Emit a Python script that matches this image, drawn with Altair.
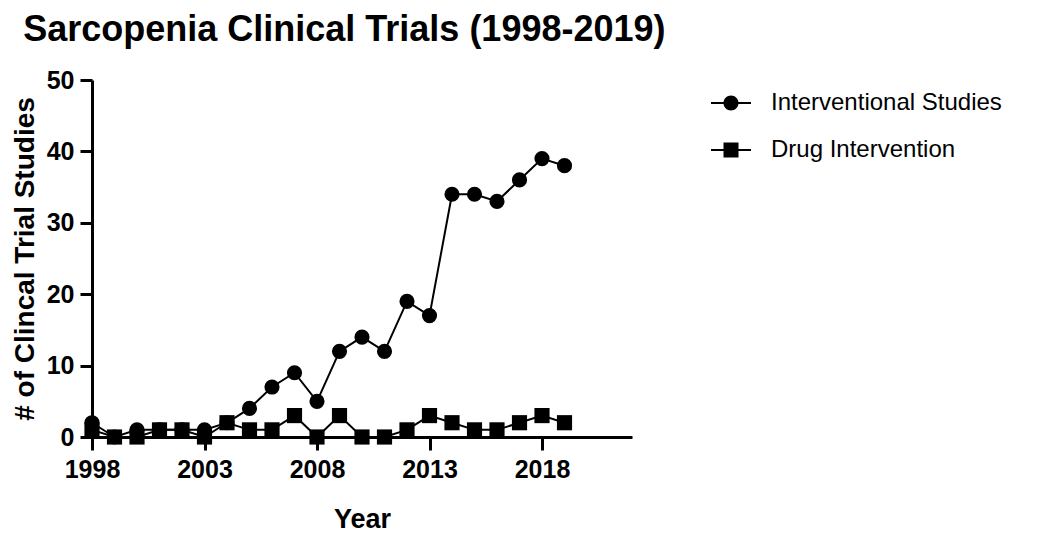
import altair as alt
import pandas as pd

series = ["Interventional Studies", "Drug Intervention"]
years = list(range(1998, 2020))
interventional = [2, 0, 1, 1, 1, 1, 2, 4, 7, 9, 5, 12, 14, 12, 19, 17, 34, 34, 33, 36, 39, 38]
drug = [1, 0, 0, 1, 1, 0, 2, 1, 1, 3, 0, 3, 0, 0, 1, 3, 2, 1, 1, 2, 3, 2]
x_ticks = [1998, 2003, 2008, 2013, 2018]
y_ticks = [0, 10, 20, 30, 40, 50]

df = pd.DataFrame({
    "Year": years * 2,
    "Count": interventional + drug,
    "Series": [series[0]] * len(years) + [series[1]] * len(years),
})

FONT = "Liberation Sans"

x_enc = alt.X(
    "Year:Q",
    scale=alt.Scale(domain=[1998, 2022], nice=False, zero=False),
    axis=alt.Axis(
        values=x_ticks, format="d", title="Year", grid=False,
        labelFont=FONT, labelFontSize=25, labelFontWeight="bold", labelColor="black",
        labelPadding=7, labelFlush=False,
        tickSize=13, tickWidth=3, tickColor="black",
        domainWidth=3, domainColor="black",
        titleFont=FONT, titleFontSize=27, titleFontWeight="bold", titleColor="black",
        titlePadding=24,
    ),
)
y_enc = alt.Y(
    "Count:Q",
    scale=alt.Scale(domain=[0, 50], nice=False),
    axis=alt.Axis(
        values=y_ticks, title="# of Clincal Trial Studies", grid=False,
        labelFont=FONT, labelFontSize=25, labelFontWeight="bold", labelColor="black",
        labelPadding=6, labelFlush=False,
        tickSize=12, tickWidth=3, tickColor="black",
        domainWidth=3, domainColor="black",
        titleFont=FONT, titleFontSize=28, titleFontWeight="bold", titleColor="black",
        titlePadding=7,
    ),
)

base = alt.Chart(df).encode(x=x_enc, y=y_enc)

lines = base.mark_line(color="black", strokeWidth=2).encode(detail="Series:N")

points = base.mark_point(filled=True, color="black", opacity=1, size=230).encode(
    shape=alt.Shape("Series:N", scale=alt.Scale(domain=series, range=["circle", "square"]), legend=None)
)

# legend glyphs: filled marker with a short line through it
circle_path = ("M-2.67,-0.13L-0.9,-0.13L-0.9,0.13L-2.67,0.13Z"
               "M0.9,-0.13L2.67,-0.13L2.67,0.13L0.9,0.13Z"
               "M1,0A1,1,0,1,1,-1,0A1,1,0,1,1,1,0Z")
square_path = ("M-2.67,-0.13L-1,-0.13L-1,0.13L-2.67,0.13Z"
               "M1,-0.13L2.67,-0.13L2.67,0.13L1,0.13Z"
               "M-1,-1L1,-1L1,1L-1,1Z")

legend_layer = base.mark_point(filled=True, color="black", opacity=1).encode(
    shape=alt.Shape(
        "Series:N",
        scale=alt.Scale(domain=series, range=[circle_path, square_path]),
        legend=alt.Legend(
            title=None, orient="none", legendX=627, legendY=11,
            labelFont=FONT, labelFontSize=24, labelColor="black", labelLimit=500,
            labelOffset=28, rowPadding=23, padding=0,
            symbolSize=225, symbolStrokeWidth=0,
            symbolFillColor="black",
        ),
    )
).transform_filter("false")

chart = alt.layer(lines, points, legend_layer).resolve_scale(shape="independent").properties(
    width=540,
    height=357,
    title=alt.Title(
        "Sarcopenia Clinical Trials (1998-2019)", anchor="start", font=FONT,
        fontSize=36, fontWeight="bold", color="black", dx=12, offset=19,
    ),
    autosize=alt.AutoSizeParams(type="none"),
    padding={"left": 84, "top": 72, "right": 410, "bottom": 96},
).configure(background="white", view=alt.ViewConfig(stroke=None))

chart.save("out.html", embed_options={"renderer": "svg", "actions": False})
